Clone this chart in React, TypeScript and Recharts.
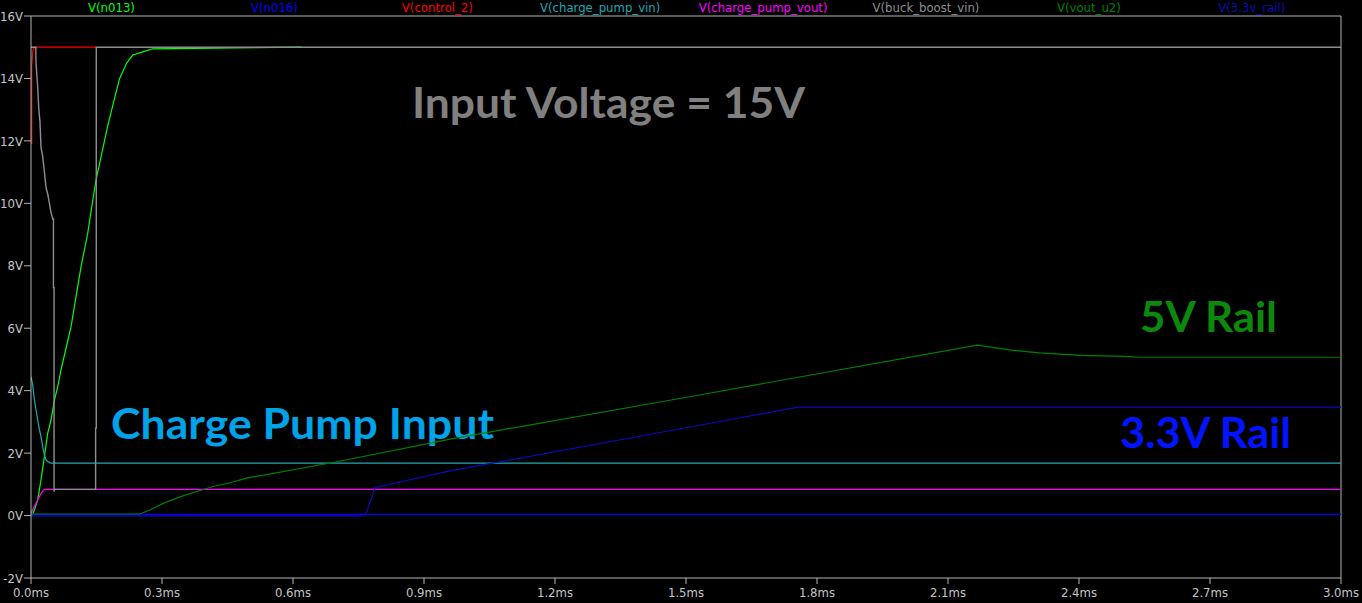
import { LineChart, Line, XAxis, YAxis, ReferenceLine, Customized } from 'recharts'

// LTspice-style transient plot, time in ms, values in volts

const seriesNames = [
  'V(n013)', 'V(n016)', 'V(control_2)', 'V(charge_pump_vin)',
  'V(charge_pump_vout)', 'V(buck_boost_vin)', 'V(vout_u2)', 'V(3.3v_rail)',
]
const seriesColors = [
  '#00ff00', '#0000ff', '#ff0000', '#1fa9b4',
  '#ff00ff', '#8e8e8e', '#008000', '#0a0ab8',
]

const xTicks = [0, 0.3, 0.6, 0.9, 1.2, 1.5, 1.8, 2.1, 2.4, 2.7, 3.0]
const yTicks = [-2, 0, 2, 4, 6, 8, 10, 12, 14, 16]

const n013T = [0, 0.0039, 0.0078, 0.0154, 0.0229, 0.0307, 0.0383, 0.0459, 0.0537, 0.0612, 0.0688, 0.0917, 0.1147, 0.13, 0.1415, 0.149, 0.176, 0.192, 0.203, 0.2195, 0.233, 0.256, 0.279, 0.62]
const n013V = [0, 0.05, 0.18, 0.5, 1.14, 1.89, 2.64, 3.06, 3.7, 4.13, 4.67, 6.05, 7.98, 9.05, 10.1, 10.75, 12.5, 13.4, 14.0, 14.5, 14.75, 14.85, 14.95, 15.0]

const n016T = [0, 3.0]
const n016V = [0.04, 0.04]

const control2T = [0.0016, 0.0016, 0.004, 0.0075, 0.149]
const control2V = [11.9, 14.4, 14.85, 15.0, 15.0]

const pumpVinT = [0, 0.0039, 0.0078, 0.0115, 0.0154, 0.0193, 0.0229, 0.0268, 0.0307, 0.0344, 0.0383, 0.0459, 3.0]
const pumpVinV = [4.45, 4.19, 3.7, 3.38, 3.06, 2.75, 2.53, 2.21, 1.94, 1.78, 1.73, 1.68, 1.68]

const pumpVoutT = [0, 0.0078, 0.0154, 0.0229, 0.0307, 3.0]
const pumpVoutV = [0.07, 0.29, 0.5, 0.71, 0.84, 0.84]

const buckVinT = [0, 0.011, 0.0115, 0.0154, 0.0177, 0.0206, 0.0229, 0.0268, 0.0307, 0.0344, 0.0383, 0.0422, 0.0459, 0.0498, 0.0514, 0.0514, 0.0528, 0.0528, 0.054, 0.148, 0.148, 0.1495, 0.1495, 3.0]
const buckVinV = [15, 15, 14.5, 13.7, 13.05, 12.6, 11.8, 11.5, 11.0, 10.5, 10.3, 10.0, 9.7, 9.5, 9.5, 7.3, 7.3, 0.77, 0.84, 0.84, 2.8, 2.8, 15, 15]

const voutU2T = [0, 0.2493, 0.2722, 0.3028, 0.3411, 0.3794, 0.4174, 0.4557, 0.494, 0.692, 0.96, 1.534, 2.167, 2.249, 2.309, 2.405, 2.502, 2.545, 3.0]
const voutU2V = [0.05, 0.05, 0.18, 0.39, 0.6, 0.77, 0.93, 1.05, 1.2, 1.7, 2.45, 3.87, 5.46, 5.29, 5.21, 5.13, 5.1, 5.07, 5.07]

const rail33T = [0, 0.762, 0.769, 0.788, 0.96, 1.534, 1.756, 3.0]
const rail33V = [-0.01, -0.01, 0.12, 0.9, 1.43, 2.9, 3.47, 3.47]

const zip = (t: number[], v: number[]) => t.map((x, i) => ({ t: x, v: v[i] }))

const series = [
  zip(n013T, n013V),
  zip(n016T, n016V),
  zip(control2T, control2V),
  zip(pumpVinT, pumpVinV),
  zip(pumpVoutT, pumpVoutV),
  zip(buckVinT, buckVinV),
  zip(voutU2T, voutU2V),
  zip(rail33T, rail33V),
]

const axisColor = '#b4b4b4'
const labelColor = '#c4c4c4'
const smallFont = '"DejaVu Sans Condensed", "Liberation Sans Narrow", sans-serif'
const bigFont = 'Lato, "Open Sans", sans-serif'

function Overlay() {
  return (
    <g>
      {seriesNames.map((n, i) => (
        <text key={n} x={111.5 + i * 162.9} y={12} textAnchor="middle"
          fontSize={13} fontFamily={smallFont} fill={seriesColors[i]}>
          {n}
        </text>
      ))}
      <text x={412} y={118} textLength={393} lengthAdjust="spacingAndGlyphs"
        fontSize={42} fontWeight={700} fontFamily={bigFont} fill="#808080">
        Input Voltage = 15V
      </text>
      <text x={1140} y={332} textLength={137} lengthAdjust="spacingAndGlyphs"
        fontSize={42} fontWeight={700} fontFamily={bigFont} fill="#0c880c">
        5V Rail
      </text>
      <text x={1120} y={448} textLength={171} lengthAdjust="spacingAndGlyphs"
        fontSize={42} fontWeight={700} fontFamily={bigFont} fill="#0014ff">
        3.3V Rail
      </text>
      <text x={111} y={439} textLength={383} lengthAdjust="spacingAndGlyphs"
        fontSize={42} fontWeight={700} fontFamily={bigFont} fill="#00a2e8">
        Charge Pump Input
      </text>
    </g>
  )
}

export default function App() {
  return (
    <div style={{ width: 1362, height: 603, background: '#000' }}>
      <style>{`body{margin:0;background:#000}`}</style>
      <LineChart width={1362} height={603} margin={{ top: 16, right: 21, bottom: 0, left: 0 }}>
        <XAxis
          type="number" dataKey="t" domain={[0, 3]} ticks={xTicks}
          tickFormatter={v => `${v.toFixed(1)}ms`}
          height={25} tickSize={6} tickMargin={4}
          stroke={axisColor}
          tick={{ fill: labelColor, fontSize: 13, fontFamily: smallFont }}
          allowDataOverflow
        />
        <YAxis
          type="number" dataKey="v" domain={[-2, 16]} ticks={yTicks}
          tickFormatter={v => `${v}V`}
          width={31} tickSize={7} tickMargin={1}
          stroke={axisColor}
          tick={{ fill: labelColor, fontSize: 13, fontFamily: smallFont }}
          allowDataOverflow
        />
        <ReferenceLine y={16} stroke={axisColor} />
        <ReferenceLine x={3} stroke={axisColor} />
        {series.map((d, i) => (
          <Line
            key={seriesNames[i]} data={d} dataKey="v" name={seriesNames[i]}
            type="linear" stroke={seriesColors[i]} strokeWidth={i === 5 ? 1.4 : 1.2}
            dot={false} activeDot={false} isAnimationActive={false}
          />
        ))}
        <Customized component={<Overlay />} />
      </LineChart>
    </div>
  )
}
